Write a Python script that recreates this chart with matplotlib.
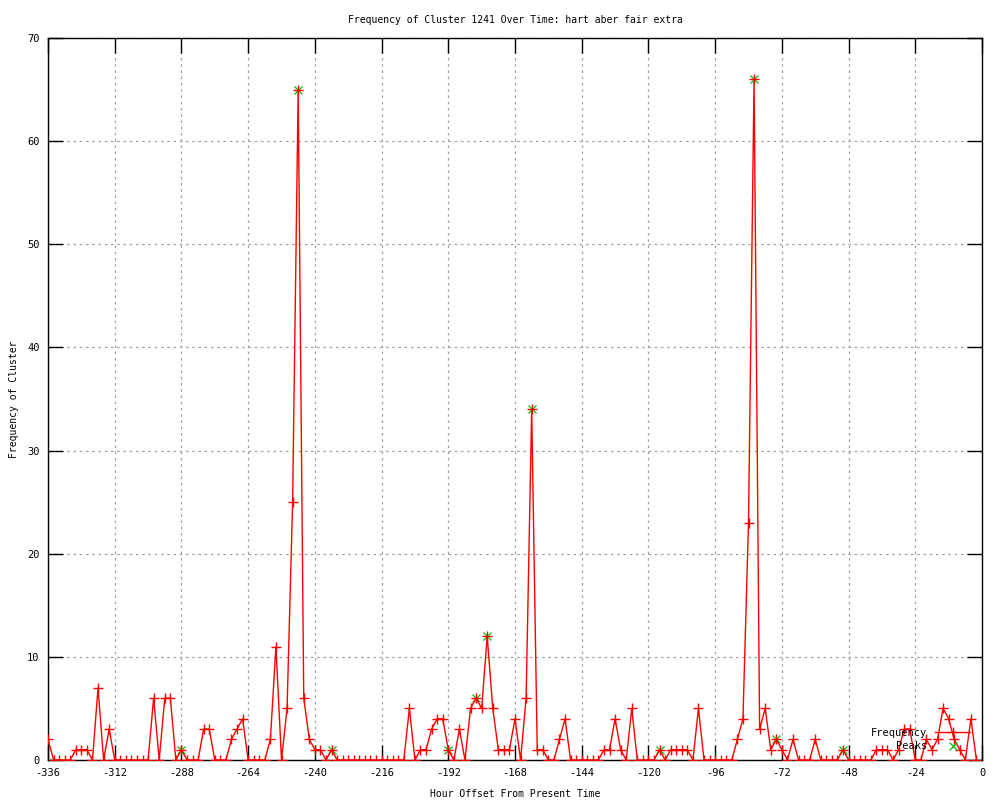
import matplotlib
matplotlib.use("Agg")
import matplotlib.pyplot as plt
import numpy as np

hours = list(range(-336, 0, 2))
freq = [2, 0, 0, 0, 0, 1, 1, 1, 0, 7, 0, 3,          # -336 .. -314
        0, 0, 0, 0, 0, 0, 0, 6, 0, 6, 6, 0,          # -312 .. -290
        1, 0, 0, 0, 3, 3, 0, 0, 0, 2, 3, 4,          # -288 .. -266
        0, 0, 0, 0, 2, 11, 0, 5, 25, 65, 6, 2,       # -264 .. -242
        1, 1, 0, 1, 0, 0, 0, 0, 0, 0, 0, 0,          # -240 .. -218
        0, 0, 0, 0, 0, 5, 0, 1, 1, 3, 4, 4,          # -216 .. -194
        1, 0, 3, 0, 5, 6, 5, 12, 5, 1, 1, 1,         # -192 .. -170
        4, 0, 6, 34, 1, 1, 0, 0, 2, 4, 0, 0,         # -168 .. -146
        0, 0, 0, 0, 1, 1, 4, 1, 0, 5, 0, 0,          # -144 .. -122
        0, 0, 1, 0, 1, 1, 1, 1, 0, 5, 0, 0,          # -120 .. -98
        0, 0, 0, 0, 2, 4, 23, 66, 3, 5, 1, 2,        # -96 .. -74
        1, 0, 2, 0, 0, 0, 2, 0, 0, 0, 0, 1,          # -72 .. -50
        0, 0, 0, 0, 0, 1, 1, 1, 0, 1, 3, 3,          # -48 .. -26
        0, 0, 2, 1, 2, 5, 4, 2, 1, 0, 4, 0]          # -24 .. -2

peak_hours = [-288, -246, -234, -192, -182, -178, -162, -116, -82, -74, -50]
peak_vals = [1, 65, 1, 1, 6, 12, 34, 1, 66, 2, 1]

x_ticks = list(range(-336, 1, 24))
y_ticks = list(range(0, 71, 10))

title = "Frequency of Cluster 1241 Over Time: hart aber fair extra"
xlabel = "Hour Offset From Present Time"
ylabel = "Frequency of Cluster"

plt.rcParams['font.family'] = ['DejaVu Sans Mono']
plt.rcParams['axes.unicode_minus'] = False

fig = plt.figure(figsize=(10, 8), dpi=100)
ax = fig.add_axes([0.048, 0.05, 0.934, 0.9025])

ax.plot(hours, freq, color='red', lw=1.0, marker='+', ms=7, mew=1.0,
        label='Frequency', zorder=3)
ax.plot(peak_hours, peak_vals, ls='none', color='#00c000', marker='x', ms=6,
        mew=0.9, label='Peaks', zorder=2)

ax.set_xlim(-336, 0)
ax.set_ylim(0, 70)
ax.set_xticks(x_ticks)
ax.set_yticks(y_ticks)
ax.tick_params(direction='in', length=11, width=1, top=True, right=True,
               labelsize=7.5, pad=6, color='black')
ax.grid(True, color='#a0a0a0', ls=(0, (2, 3)), lw=0.9)
for s in ax.spines.values():
    s.set_linewidth(1)
    s.set_color('black')

ax.set_title(title, fontsize=7, pad=11)
ax.set_xlabel(xlabel, fontsize=7, labelpad=8)
ax.set_ylabel(ylabel, fontsize=7, labelpad=6)

leg = ax.legend(loc='lower right', bbox_to_anchor=(0.987, 0.012), frameon=False,
                markerfirst=False, fontsize=7.5, handlelength=3.3,
                borderpad=0, borderaxespad=0, labelspacing=0.35,
                handletextpad=0.8)

fig.savefig('out.png', dpi=100)
